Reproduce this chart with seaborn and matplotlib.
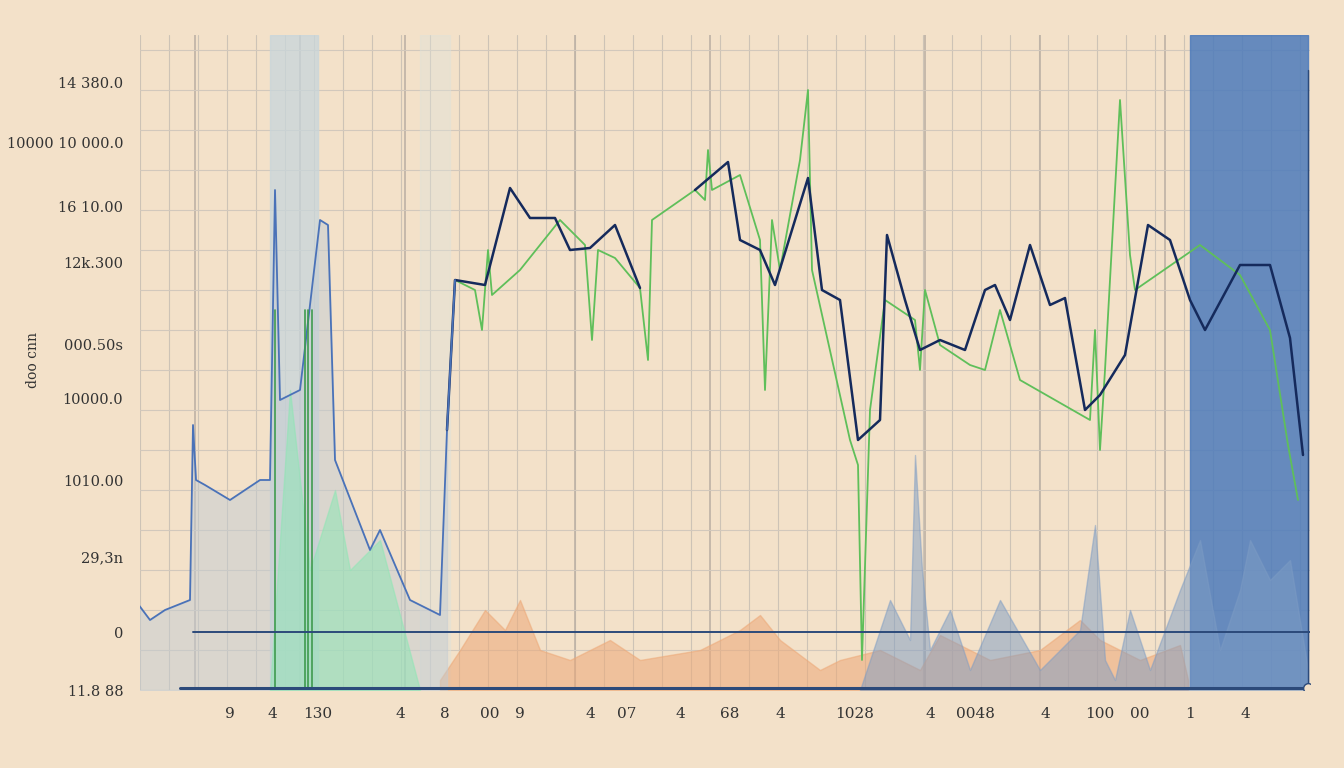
import numpy as np
import pandas as pd
import seaborn as sns
import matplotlib.pyplot as plt

# x positions and values (arbitrary units, 0..1170 wide, 0..655 tall)
main_x = [307, 315, 345, 370, 390, 415, 430, 450, 475, 500,
          555, 588, 600, 620, 635, 668, 682, 700, 718, 740, 747, 765, 780, 800, 825, 845,
          855, 870, 890, 910, 925, 945, 960, 985, 1008, 1030, 1050, 1065, 1100, 1130, 1150, 1163]
main_y = [260, 410, 405, 502, 472, 472, 440, 442, 465, 402,
          500, 528, 450, 440, 405, 512, 400, 390, 250, 270, 455, 390, 340, 350, 340, 400,
          405, 370, 445, 385, 392, 280, 295, 335, 465, 450, 390, 360, 425, 425, 352, 235]
gap_after = 9  # line breaks between index 9 and 10

green_x = [315, 335, 342, 348, 352, 380, 420, 445, 452, 458, 475, 500, 508, 512,
           555, 565, 568, 572, 600, 620, 625, 632, 640, 660, 668, 672,
           710, 718, 722, 730, 745, 775, 780, 785, 800, 830, 845, 860, 880, 950, 955, 960, 965,
           980, 990, 995, 1060, 1080, 1100, 1130, 1148, 1158]
green_y = [410, 400, 360, 440, 395, 420, 470, 445, 350, 440, 432, 402, 330, 470,
           500, 490, 540, 500, 515, 450, 300, 470, 420, 530, 600, 420,
           250, 225, 30, 280, 390, 370, 320, 400, 345, 325, 320, 380, 310, 270, 360, 240, 320,
           590, 435, 400, 445, 430, 415, 360, 245, 190]

left_x = [-5, 10, 25, 50, 53, 56, 65, 90, 120, 130, 135, 140, 160, 180, 188, 195, 230, 240, 270, 300, 307]
left_y = [90, 70, 80, 90, 265, 210, 205, 190, 210, 210, 500, 290, 300, 470, 465, 230, 140, 160, 90, 75, 260]

orange_x = [300, 320, 345, 365, 380, 400, 430, 470, 500, 560, 600, 620, 640, 680, 700,
            740, 780, 800, 850, 900, 940, 960, 1000, 1040, 1048]
orange_y = [10, 40, 80, 60, 90, 40, 30, 50, 30, 40, 60, 75, 50, 20, 30,
            40, 20, 55, 30, 40, 70, 50, 30, 45, 10]

bluearea_x = [720, 750, 770, 775, 782, 790, 810, 830, 860, 900, 940, 955, 965, 975, 990, 1010, 1040, 1060, 1080, 1100, 1110, 1130, 1150, 1168]
bluearea_y = [0, 90, 50, 235, 120, 40, 80, 20, 90, 20, 60, 165, 30, 10, 80, 20, 100, 150, 40, 100, 150, 110, 130, 20]

ytick_pos = [608, 548, 483, 427, 345, 292, 210, 133, 58, 0]
ytick_labels = ["14 380.0", "10000 10 000.0", "16 10.00", "12k.300", "000.50s",
                "10000.0", "1010.00", "29,3n", "0", "11.8 88"]
xtick_pos = [90, 132, 178, 260, 305, 350, 380, 450, 487, 540, 590, 640, 715, 790, 835, 905, 960, 1000, 1050, 1105]
xtick_labels = ["9", "4", "130", "4", "8", "00", "9", "4", "07", "4", "68", "4", "1028", "4",
                "0048", "4", "100", "00", "1", "4"]

bg = "#f3e1c9"
sns.set_theme(style="white")
plt.rcParams['font.family'] = ['DejaVu Serif']
fig = plt.figure(figsize=(13.44, 7.68), dpi=100, facecolor=bg)
ax = fig.add_axes([140 / 1344, 1 - 690 / 768, 1170 / 1344, 655 / 768])
ax.set_facecolor(bg)
ax.set_xlim(0, 1170)
ax.set_ylim(0, 655)

# grid
for x in np.arange(0, 1170, 29):
    ax.axvline(x, color="#cdc3b6", lw=0.8, zorder=0)
for x in [55, 160, 265, 435, 570, 785, 900, 1025]:
    ax.axvline(x, color="#bdb2a6", lw=1.2, zorder=0)
for y in np.arange(0, 655, 40):
    ax.axhline(y, color="#d2c8bc", lw=0.8, zorder=0)

# shaded bands
ax.axvspan(130, 178, color="#c8d6dc", alpha=0.75, zorder=1)
ax.axvspan(1050, 1168, color="#4d7bbb", alpha=0.85, zorder=1)
ax.axvspan(280, 310, color="#dde2dc", alpha=0.4, zorder=1)

# bottom areas
ax.fill_between(orange_x, orange_y, color="#eda877", alpha=0.55, zorder=2)
ax.fill_between(bluearea_x, bluearea_y, color="#7d9cc4", alpha=0.5, zorder=2)
ax.fill_between(left_x, left_y, color="#c3ccd3", alpha=0.5, zorder=2)
ax.fill_between([130, 150, 170, 195, 210, 240, 280], [0, 300, 120, 200, 120, 150, 0],
                color="#8fe6b5", alpha=0.55, zorder=2)

sns.lineplot(x=left_x, y=left_y, color="#4a72b8", lw=1.3, ax=ax, zorder=3, sort=False)
for i in [135, 165, 168, 172]:
    ax.plot([i, i], [0, 380], color="#3f9b4f", lw=1.2, zorder=3)

sns.lineplot(x=green_x, y=green_y, color="#5fbf5a", lw=1.3, ax=ax, zorder=4, sort=False)
df = pd.DataFrame({"x": main_x, "y": main_y})
sns.lineplot(data=df.iloc[:gap_after + 1], x="x", y="y", color="#152a5c", lw=1.8, ax=ax, zorder=5, sort=False)
sns.lineplot(data=df.iloc[gap_after + 1:], x="x", y="y", color="#152a5c", lw=1.8, ax=ax, zorder=5, sort=False)
ax.plot([307, 315], [260, 410], color="#4a72b8", lw=1.3, zorder=5)

# baselines
ax.axhline(58, color="#2c4a7a", lw=1.4, xmin=53 / 1170, zorder=6)
ax.axhline(2, color="#2c4a7a", lw=2.2, xmin=40 / 1170, zorder=6)
ax.plot([1168, 1168], [0, 620], color="#2c4a7a", lw=1, zorder=6)
ax.plot(1168, 2, "o", mfc=bg, mec="#2c4a7a", ms=7, zorder=7)

ax.set_yticks(ytick_pos)
ax.set_yticklabels(ytick_labels, fontsize=10.5, color="#333")
ax.set_xticks(xtick_pos)
ax.set_xticklabels(xtick_labels, fontsize=11, color="#333")
ax.tick_params(length=0, pad=12)
ax.set_xlabel("")
ax.set_ylabel("")
fig.text(33 / 1344, 1 - 360 / 768, "doo cnn", rotation=90, fontsize=10,
         color="#333", ha="center", va="center")
for s in ax.spines.values():
    s.set_visible(False)

fig.savefig("out.png", dpi=100, facecolor=bg)
